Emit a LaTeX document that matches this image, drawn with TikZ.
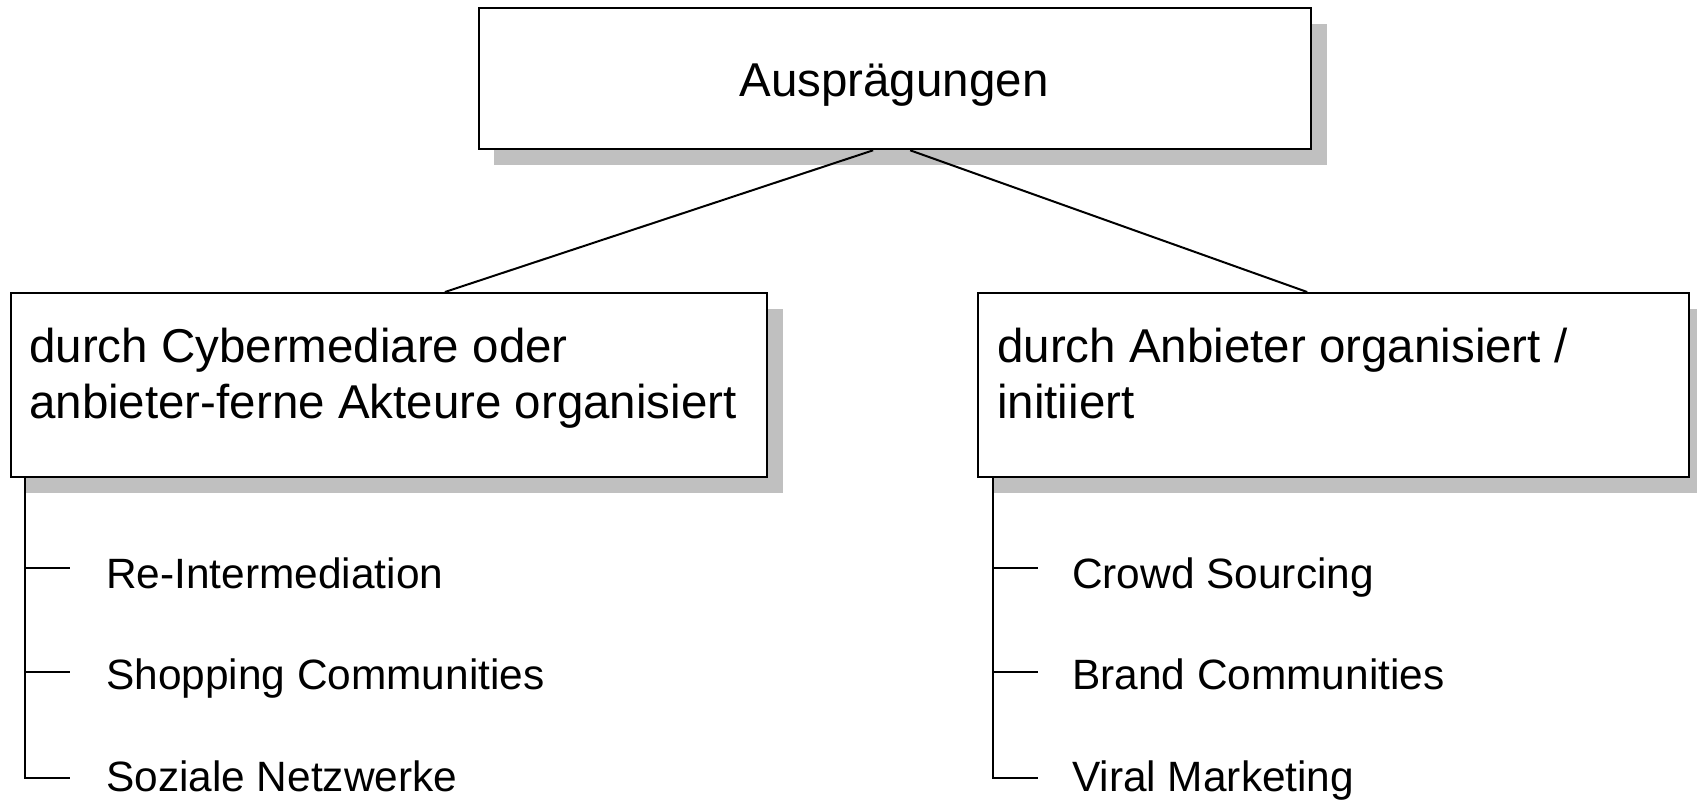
\documentclass[tikz,border=0pt]{standalone}
\usepackage{fontspec}
\setmainfont{Liberation Sans}
\usetikzlibrary{calc}
\definecolor{shadowgray}{RGB}{192,192,192}
\tikzset{
  x=1pt, y=-1pt,
  box/.style={draw=black, line width=2.3pt, fill=white, inner sep=0pt, anchor=north west},
  boxshadow/.style={fill=shadowgray},
  link/.style={draw=black, line width=2pt},
  boxtext/.style={inner sep=0pt, align=left, font=\fontsize{47.5}{56}\selectfont},
  itemtext/.style={inner sep=0pt, anchor=base west, font=\fontsize{42.4}{50}\selectfont},
}
\begin{document}
\begin{tikzpicture}
\useasboundingbox (0,0) rectangle (1697,800);
\clip (0,0) rectangle (1697,800);

% shadows behind the boxes
\fill[boxshadow] (494,24) rectangle (1327,165);
\fill[boxshadow] (26,309) rectangle (783,493);
\fill[boxshadow] (993,309) rectangle (1705,493);

% boxes
\node[box, minimum width=832pt, minimum height=141pt] (top) at (478,7) {};
\node[box, minimum width=756.5pt, minimum height=184pt] (lbox) at (9.5,292) {};
\node[box, minimum width=711pt, minimum height=184pt] (rbox) at (977,292) {};

% box labels (anchored on the baseline of the last line)
\node[boxtext, anchor=base] (toptext) at (894,96) {Ausprägungen};
\node[boxtext, anchor=base west] (ltext) at (29,418) {durch Cybermediare oder\\anbieter-ferne Akteure organisiert};
\node[boxtext, anchor=base west] (rtext) at (997,418) {durch Anbieter organisiert /\\initiiert};

% connectors from the top box
\draw[link] ([xshift=-22pt]top.south) -- ([xshift=56pt]lbox.north);
\draw[link] ([xshift=15pt]top.south) -- ([xshift=-26.5pt]rbox.north);

% left list
\coordinate (la) at (70,568);
\coordinate (lb) at (70,672);
\coordinate (lc) at (70,778);
\draw[link] ([xshift=15.5pt]lbox.south west) |- (lc);
\draw[link] (la -| lbox.south west) ++(15.5,0) -- (la);
\draw[link] (lb -| lbox.south west) ++(15.5,0) -- (lb);
\node[itemtext] (l1) at (106,588) {Re-Intermediation};
\node[itemtext] (l2) at (106,689) {Shopping Communities};
\node[itemtext] (l3) at (106,791) {Soziale Netzwerke};

% right list
\coordinate (ra) at (1038,568);
\coordinate (rb) at (1038,672);
\coordinate (rc) at (1038,778);
\draw[link] ([xshift=16pt]rbox.south west) |- (rc);
\draw[link] (ra -| rbox.south west) ++(16,0) -- (ra);
\draw[link] (rb -| rbox.south west) ++(16,0) -- (rb);
\node[itemtext] (r1) at (1072,588) {Crowd Sourcing};
\node[itemtext] (r2) at (1072,689) {Brand Communities};
\node[itemtext] (r3) at (1072,791) {Viral Marketing};
\end{tikzpicture}
\end{document}
